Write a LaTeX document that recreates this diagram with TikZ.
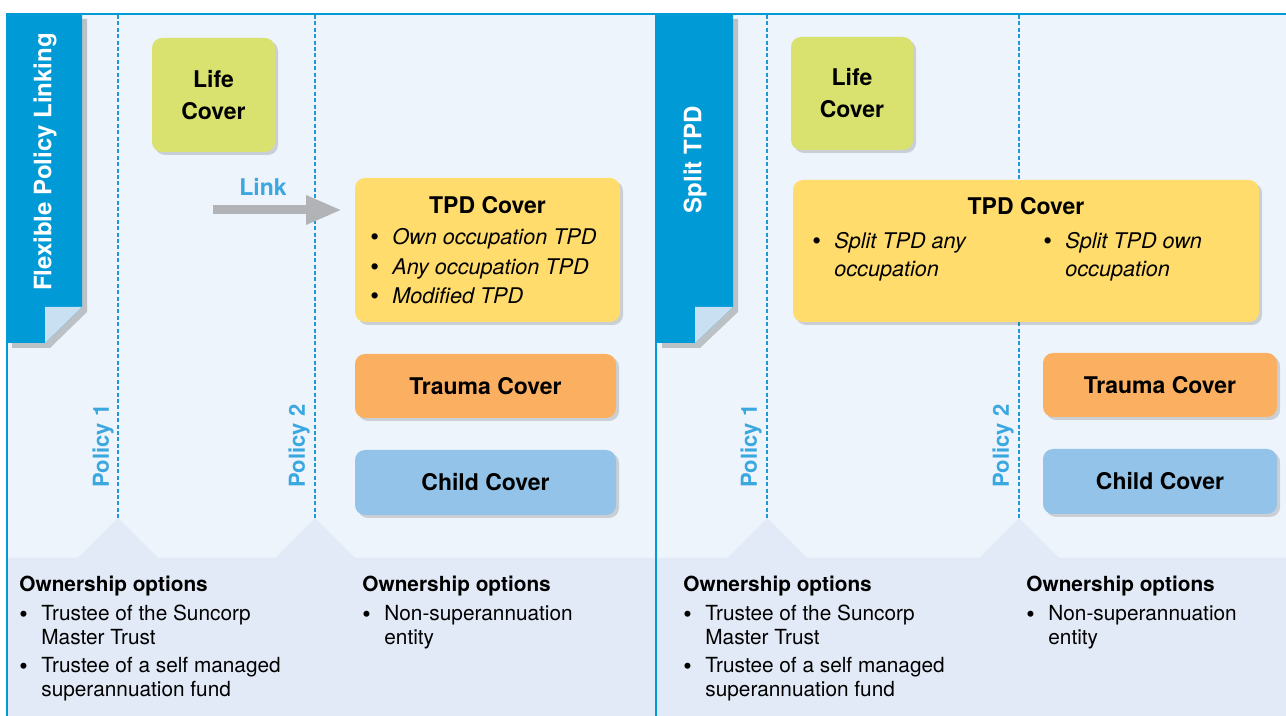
\documentclass[tikz,border=0pt]{standalone}
\usepackage{fontspec}
\setmainfont{TeX Gyre Heros}
\usepackage{xcolor}
\usetikzlibrary{shadows,arrows.meta}
\definecolor{ribbon}{HTML}{009BD7}
\definecolor{fold}{HTML}{C9DFF2}
\definecolor{pol}{HTML}{3BA7DF}
\definecolor{dash}{HTML}{1D9AD6}
\definecolor{panelbg}{HTML}{EDF4FC}
\definecolor{band}{HTML}{E1EAF6}
\definecolor{life}{HTML}{D9E26E}
\definecolor{tpd}{HTML}{FFDC6B}
\definecolor{trauma}{HTML}{FBB061}
\definecolor{child}{HTML}{93C3E8}
\definecolor{linkgray}{HTML}{B1B3B6}
\newcommand{\blt}{\makebox[11pt][l]{\raisebox{-0.6pt}{\fontsize{12}{12}\selectfont\textbullet}}}
\newcommand{\ind}{\hspace*{11pt}}
\newcommand{\tblt}{\makebox[11pt][l]{\raisebox{-0.5pt}{\fontsize{12.5}{12}\selectfont\upshape\textbullet}}}
\newcommand{\tind}{\hspace*{11pt}}
\tikzset{
  frame/.style={draw=ribbon, line width=1pt},
  polline/.style={draw=dash, line width=0.6pt, dash pattern=on 2pt off 1.2pt},
  band/.style={fill=band},
  ribbonbox/.style={fill=ribbon, drop shadow={shadow xshift=2.5pt, shadow yshift=-2.5pt, opacity=.3, fill=black!70}},
  ribbontxt/.style={text=white, font=\fontsize{12}{14}\selectfont\bfseries, rotate=90, inner sep=0pt},
  poltxt/.style={text=pol, font=\fontsize{11}{13}\selectfont\bfseries, rotate=90, inner sep=0pt},
  cover/.style={rounded corners=5pt, inner sep=0pt, align=center,
    font=\fontsize{11.5}{16}\selectfont\bfseries,
    drop shadow={shadow xshift=1.5pt, shadow yshift=-1.5pt, opacity=.22, fill=black!70}},
  title/.style={font=\fontsize{11.5}{14}\selectfont\bfseries, inner sep=0pt},
  tpdlist/.style={font=\fontsize{10.8}{14.75}\selectfont\itshape, align=left, inner sep=0pt},
  owner/.style={font=\fontsize{10.4}{12}\selectfont, align=left, inner sep=0pt},
}
\begin{document}
\begin{tikzpicture}[x=0.5pt,y=-0.5pt]
  \useasboundingbox (0,0) rectangle (1286,716);
  \fill[white] (0,0) rectangle (1286,716);
  \fill[panelbg] (7,14) rectangle (1286,716);

  % ownership band with peaks under the policy lines
  \fill[band] (7,716) -- (7,558) -- (78,558) -- (118,518) -- (158,558)
    -- (275,558) -- (315,518) -- (355,558) -- (727,558) -- (767,518)
    -- (807,558) -- (979,558) -- (1019,518) -- (1059,558) -- (1286,558)
    -- (1286,716) -- cycle;

  \foreach \x in {118,315,767,1019}
    \draw[polline] (\x,15) -- (\x,518);

  \draw[frame] (7,716) -- (7,14) -- (1286,14);
  \draw[frame] (656,14) -- (656,716);

  % ribbons
  \fill[ribbonbox] (7,14) -- (82,14) -- (82,307) -- (45,343) -- (7,343) -- cycle;
  \fill[fold] (45,307) -- (82,307) -- (45,343) -- cycle;
  \fill[ribbonbox] (657,14) -- (733,14) -- (733,307) -- (695,343) -- (657,343) -- cycle;
  \fill[fold] (695,307) -- (733,307) -- (695,343) -- cycle;
  \node[ribbontxt] (rib1) at (45,162) {Flexible Policy Linking};
  \node[ribbontxt] (rib2) at (695,160) {Split TPD};

  \node[poltxt] (pol11) at (103,446) {Policy 1};
  \node[poltxt] (pol12) at (299,446) {Policy 2};
  \node[poltxt] (pol21) at (751,446) {Policy 1};
  \node[poltxt] (pol22) at (1003,446) {Policy 2};

  % covers, left panel
  \node[cover, fill=life, minimum width=61.5pt, minimum height=57pt] (life1) at (213.5,95) {Life\\Cover};
  \node[cover, fill=tpd, minimum width=132.5pt, minimum height=72pt] (tpd1) at (487.5,250) {};
  \node[cover, fill=trauma, minimum width=130.5pt, minimum height=32pt] (trauma1) at (485.5,386) {Trauma Cover};
  \node[cover, fill=child, minimum width=130.5pt, minimum height=32.5pt] (child1) at (485.5,482.5) {Child Cover};
  \node[title] (tpd1t) at (487.5,205) {TPD Cover};
  \node[tpdlist, anchor=base west] (tpd1l) at (370,304)
    {\tblt Own occupation TPD\\ \tblt Any occupation TPD\\ \tblt Modified TPD};

  \coordinate (lk1) at (213,210);
  \coordinate (lk2) at (342,210);
  \draw[linkgray, line width=4.5pt, -{Triangle[length=18pt,width=13.5pt]}] (lk1) -- (lk2);
  \node[text=pol, font=\fontsize{11.5}{14}\selectfont\bfseries, inner sep=0pt] (link) at (263,187) {Link};

  % covers, right panel
  \node[cover, fill=life, minimum width=61pt, minimum height=56.5pt] (life2) at (852,93.5) {Life\\Cover};
  \node[cover, fill=tpd, minimum width=233pt, minimum height=71pt] (tpd2) at (1026,251) {};
  \node[cover, fill=trauma, minimum width=117pt, minimum height=32pt] (trauma2) at (1160,385) {Trauma Cover};
  \node[cover, fill=child, minimum width=117pt, minimum height=32.5pt] (child2) at (1160,481.5) {Child Cover};
  \node[title] (tpd2t) at (1026,206) {TPD Cover};
  \node[tpdlist, font=\fontsize{10.8}{14}\selectfont\itshape, anchor=base west] (tpd2a) at (812,277)
    {\tblt Split TPD any\\ \tind occupation};
  \node[tpdlist, font=\fontsize{10.8}{14}\selectfont\itshape, anchor=base west] (tpd2b) at (1043,277)
    {\tblt Split TPD own\\ \tind occupation};

  % ownership options
  \node[owner, anchor=base west] (own11) at (19,697)
    {\textbf{Ownership options}\\[2.5pt] \blt Trustee of the Suncorp\\ \ind Master Trust\\[2pt]
     \blt Trustee of a self managed\\ \ind superannuation fund};
  \node[owner, anchor=base west] (own12) at (362,645)
    {\textbf{Ownership options}\\[2.5pt] \blt Non-superannuation\\ \ind entity};
  \node[owner, anchor=base west] (own21) at (683,697)
    {\textbf{Ownership options}\\[2.5pt] \blt Trustee of the Suncorp\\ \ind Master Trust\\[2pt]
     \blt Trustee of a self managed\\ \ind superannuation fund};
  \node[owner, anchor=base west] (own22) at (1026,645)
    {\textbf{Ownership options}\\[2.5pt] \blt Non-superannuation\\ \ind entity};
\end{tikzpicture}
\end{document}
